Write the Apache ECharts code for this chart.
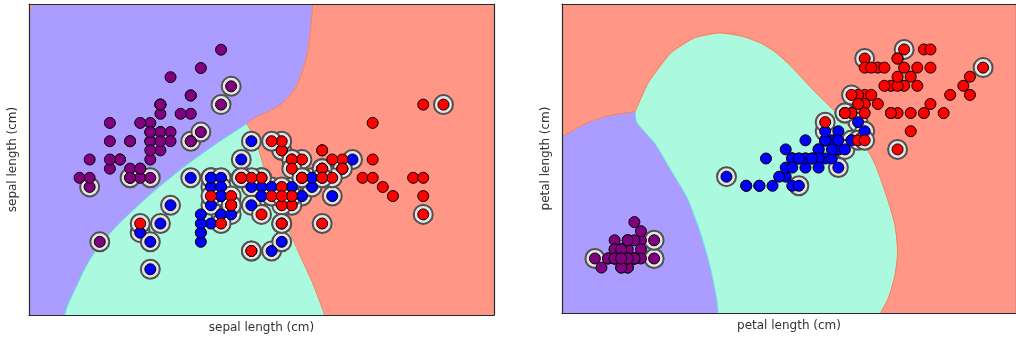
<!DOCTYPE html>
<html>
<head>
<meta charset="utf-8">
<script src="https://cdn.jsdelivr.net/npm/echarts@6/dist/echarts.min.js"></script>
<style>
  html, body { margin: 0; padding: 0; background: #fff; overflow: hidden; }
  #chart { width: 1016px; height: 339px; }
</style>
</head>
<body>
<div id="chart"></div>
<script>
// Iris measurements: [sepal length, sepal width, petal length, petal width] (cm)
const setosa = [
  [5.1,3.5,1.4,0.2],[4.9,3.0,1.4,0.2],[4.7,3.2,1.3,0.2],[4.6,3.1,1.5,0.2],[5.0,3.6,1.4,0.2],
  [5.4,3.9,1.7,0.4],[4.6,3.4,1.4,0.3],[5.0,3.4,1.5,0.2],[4.4,2.9,1.4,0.2],[4.9,3.1,1.5,0.1],
  [5.4,3.7,1.5,0.2],[4.8,3.4,1.6,0.2],[4.8,3.0,1.4,0.1],[4.3,3.0,1.1,0.1],[5.8,4.0,1.2,0.2],
  [5.7,4.4,1.5,0.4],[5.4,3.9,1.3,0.4],[5.1,3.5,1.4,0.3],[5.7,3.8,1.7,0.3],[5.1,3.8,1.5,0.3],
  [5.4,3.4,1.7,0.2],[5.1,3.7,1.5,0.4],[4.6,3.6,1.0,0.2],[5.1,3.3,1.7,0.5],[4.8,3.4,1.9,0.2],
  [5.0,3.0,1.6,0.2],[5.0,3.4,1.6,0.4],[5.2,3.5,1.5,0.2],[5.2,3.4,1.4,0.2],[4.7,3.2,1.6,0.2],
  [4.8,3.1,1.6,0.2],[5.4,3.4,1.5,0.4],[5.2,4.1,1.5,0.1],[5.5,4.2,1.4,0.2],[4.9,3.1,1.5,0.2],
  [5.0,3.2,1.2,0.2],[5.5,3.5,1.3,0.2],[4.9,3.6,1.4,0.1],[4.4,3.0,1.3,0.2],[5.1,3.4,1.5,0.2],
  [5.0,3.5,1.3,0.3],[4.5,2.3,1.3,0.3],[4.4,3.2,1.3,0.2],[5.0,3.5,1.6,0.6],[5.1,3.8,1.9,0.4],
  [4.8,3.0,1.4,0.3],[5.1,3.8,1.6,0.2],[4.6,3.2,1.4,0.2],[5.3,3.7,1.5,0.2],[5.0,3.3,1.4,0.2]
];
const versicolor = [
  [7.0,3.2,4.7,1.4],[6.4,3.2,4.5,1.5],[6.9,3.1,4.9,1.5],[5.5,2.3,4.0,1.3],[6.5,2.8,4.6,1.5],
  [5.7,2.8,4.5,1.3],[6.3,3.3,4.7,1.6],[4.9,2.4,3.3,1.0],[6.6,2.9,4.6,1.3],[5.2,2.7,3.9,1.4],
  [5.0,2.0,3.5,1.0],[5.9,3.0,4.2,1.5],[6.0,2.2,4.0,1.0],[6.1,2.9,4.7,1.4],[5.6,2.9,3.6,1.3],
  [6.7,3.1,4.4,1.4],[5.6,3.0,4.5,1.5],[5.8,2.7,4.1,1.0],[6.2,2.2,4.5,1.5],[5.6,2.5,3.9,1.1],
  [5.9,3.2,4.8,1.8],[6.1,2.8,4.0,1.3],[6.3,2.5,4.9,1.5],[6.1,2.8,4.7,1.2],[6.4,2.9,4.3,1.3],
  [6.6,3.0,4.4,1.4],[6.8,2.8,4.8,1.4],[6.7,3.0,5.0,1.7],[6.0,2.9,4.5,1.5],[5.7,2.6,3.5,1.0],
  [5.5,2.4,3.8,1.1],[5.5,2.4,3.7,1.0],[5.8,2.7,3.9,1.2],[6.0,2.7,5.1,1.6],[5.4,3.0,4.5,1.5],
  [6.0,3.4,4.5,1.6],[6.7,3.1,4.7,1.5],[6.3,2.3,4.4,1.3],[5.6,3.0,4.1,1.3],[5.5,2.5,4.0,1.3],
  [5.5,2.6,4.4,1.2],[6.1,3.0,4.6,1.4],[5.8,2.6,4.0,1.2],[5.0,2.3,3.3,1.0],[5.6,2.7,4.2,1.3],
  [5.7,3.0,4.2,1.2],[5.7,2.9,4.2,1.3],[6.2,2.9,4.3,1.3],[5.1,2.5,3.0,1.1],[5.7,2.8,4.1,1.3]
];
const virginica = [
  [6.3,3.3,6.0,2.5],[5.8,2.7,5.1,1.9],[7.1,3.0,5.9,2.1],[6.3,2.9,5.6,1.8],[6.5,3.0,5.8,2.2],
  [7.6,3.0,6.6,2.1],[4.9,2.5,4.5,1.7],[7.3,2.9,6.3,1.8],[6.7,2.5,5.8,1.8],[7.2,3.6,6.1,2.5],
  [6.5,3.2,5.1,2.0],[6.4,2.7,5.3,1.9],[6.8,3.0,5.5,2.1],[5.7,2.5,5.0,2.0],[5.8,2.8,5.1,2.4],
  [6.4,3.2,5.3,2.3],[6.5,3.0,5.5,1.8],[7.7,3.8,6.7,2.2],[7.7,2.6,6.9,2.3],[6.0,2.2,5.0,1.5],
  [6.9,3.2,5.7,2.3],[5.6,2.8,4.9,2.0],[7.7,2.8,6.7,2.0],[6.3,2.7,4.9,1.8],[6.7,3.3,5.7,2.1],
  [7.2,3.2,6.0,1.8],[6.2,2.8,4.8,1.8],[6.1,3.0,4.9,1.8],[6.4,2.8,5.6,2.1],[7.2,3.0,5.8,1.6],
  [7.4,2.8,6.1,1.9],[7.9,3.8,6.4,2.0],[6.4,2.8,5.6,2.2],[6.3,2.8,5.1,1.5],[6.1,2.6,5.6,1.4],
  [7.7,3.0,6.1,2.3],[6.3,3.4,5.6,2.4],[6.4,3.1,5.5,1.8],[6.0,3.0,4.8,1.8],[6.9,3.1,5.4,2.1],
  [6.7,3.1,5.6,2.4],[6.9,3.1,5.1,2.3],[5.8,2.7,5.1,1.9],[6.8,3.2,5.9,2.3],[6.7,3.3,5.7,2.5],
  [6.7,3.0,5.2,2.3],[6.3,2.5,5.0,1.9],[6.5,3.0,5.2,2.0],[6.2,3.4,5.4,2.3],[5.9,3.0,5.1,1.8]
];

// Support vectors, by sample number (1-150)
const svSepal = [
  9,13,15,19,21,26,37,42,
  51,52,53,55,56,57,58,59,60,61,62,63,64,65,66,67,68,69,71,72,73,74,75,76,77,78,79,80,
  83,84,85,86,87,88,89,92,93,94,95,96,97,98,99,100,
  101,102,104,105,107,109,111,112,113,114,115,116,117,119,120,122,124,127,128,129,
  132,133,134,135,137,138,139,141,143,146,147,148,149,150
];
const svPetal = [23,25,45,53,68,71,73,74,77,78,84,86,99,107,115,119,120,122,127,134,135,145];

// Axis extents (cm)
const sepalRange = { x: [3.8, 8.4], y: [1.5, 4.9] };
const petalRange = { x: [0.5, 7.4], y: [-0.4, 3.0] };

// Decision boundaries, sepal panel (x = sepal length, y = sepal width)
const sepalPurpleSalmon = [[6.606,4.9],[6.592,4.684],[6.547,4.323],[6.438,3.984],[6.300,3.809],
  [6.161,3.721],[6.033,3.656],[5.954,3.590]];
const sepalPurpleAqua = [[5.954,3.590],[5.637,3.360],[5.321,3.109],[4.994,2.813],[4.697,2.507],
  [4.499,2.266],[4.371,2.047],[4.252,1.773],[4.183,1.609],[4.153,1.5]];
const sepalAquaSalmon = [[5.954,3.590],[6.043,3.415],[6.102,3.196],[6.181,2.923],[6.270,2.704],
  [6.349,2.485],[6.478,2.157],[6.606,1.850],[6.725,1.5]];
const sepalCorner = [[3.8,4.9],[3.845,4.9],[3.8,4.8]];

// Decision boundaries, petal panel (x = petal length, y = petal width)
const petalPurpleSalmon = [[0.5,1.540],[0.920,1.705],[1.266,1.779],[1.613,1.815]];
const petalPurpleAqua = [[1.613,1.815],[1.632,1.702],[1.910,1.467],[2.152,1.173],[2.404,0.865],
  [2.597,0.495],[2.745,0.128],[2.849,-0.235],[2.874,-0.4]];
const petalAquaSalmon = [[1.613,1.815],[1.810,2.131],[2.152,2.461],[2.508,2.626],[2.894,2.681],
  [3.220,2.648],[3.517,2.571],[3.739,2.472],[3.977,2.318],[4.318,2.054],[4.670,1.801],
  [4.912,1.614],[5.115,1.426],[5.263,1.228],[5.412,0.931],[5.560,0.568],[5.599,0.271],
  [5.560,0.018],[5.461,-0.235],[5.338,-0.4]];

const BG = { purple: '#ab9dff', aqua: '#abfadf', salmon: '#ff9686' };
const DOT = { setosa: '#800080', versicolor: '#0000ff', virginica: '#ff0000' };
const EDGE = { cyan: '#5fe3e8', orange: '#f2845c' };
const FONT = 'DejaVu Sans';

const allSamples = setosa.concat(versicolor, virginica);
const cols = (rows, a, b) => rows.map(r => [r[a], r[b]]);
const svCols = (nums, a, b) => nums.map(n => [allSamples[n - 1][a], allSamples[n - 1][b]]);
const rectOf = r => [[r.x[0], r.y[0]], [r.x[1], r.y[0]], [r.x[1], r.y[1]], [r.x[0], r.y[1]]];
const rev = a => a.slice().reverse();

const sepalRegions = [
  { fill: BG.salmon, pts: rectOf(sepalRange) },
  { fill: BG.purple, pts: [[sepalRange.x[0], sepalRange.y[1]]].concat(sepalPurpleSalmon,
      sepalPurpleAqua.slice(1), [[sepalRange.x[0], sepalRange.y[0]]]) },
  { fill: BG.aqua, pts: sepalPurpleAqua.concat(rev(sepalAquaSalmon).slice(0, -1)) },
  { fill: BG.salmon, pts: sepalCorner }
];
const petalRegions = [
  { fill: BG.salmon, pts: rectOf(petalRange) },
  { fill: BG.purple, pts: [[petalRange.x[0], petalRange.y[0]]].concat(petalPurpleSalmon,
      petalPurpleAqua.slice(1)) },
  { fill: BG.aqua, pts: petalPurpleAqua.concat(rev(petalAquaSalmon).slice(0, -1)) }
];

function regionSeries(gi, polys) {
  return {
    type: 'custom', xAxisIndex: gi * 2, yAxisIndex: gi * 2, silent: true, animation: false, z: 1,
    data: polys.map(p => p.pts[0]),
    renderItem(params, api) {
      const p = polys[params.dataIndex];
      return { type: 'polygon', shape: { points: p.pts.map(q => api.coord(q)) },
               style: { fill: p.fill, stroke: null } };
    }
  };
}
function edgeSeries(gi, pts, color) {
  return { type: 'line', xAxisIndex: gi * 2, yAxisIndex: gi * 2, data: pts, symbol: 'none',
           smooth: 0.3, lineStyle: { color, width: 1 }, silent: true, animation: false, z: 2 };
}
function ringSeries(gi, pts) {
  return { type: 'scatter', xAxisIndex: gi * 2, yAxisIndex: gi * 2, data: pts, symbolSize: 19,
           itemStyle: { color: '#e4e4e4', borderColor: '#505050', borderWidth: 2, opacity: 1 },
           silent: true, animation: false, z: 3 };
}
function dotSeries(gi, pts, color) {
  return { type: 'scatter', xAxisIndex: gi * 2, yAxisIndex: gi * 2, data: pts, symbolSize: 11,
           itemStyle: { color, borderColor: '#000', borderWidth: 1, opacity: 1 },
           silent: true, animation: false, z: 4 };
}

const frameLine = { show: true, onZero: false, lineStyle: { color: '#2a2a2a', width: 1.2 } };
const nameStyle = { color: '#333', fontFamily: FONT, fontSize: 12 };
function xAxes(gi, range, name) {
  const base = { gridIndex: gi, type: 'value', min: range.x[0], max: range.x[1], z: 10,
    axisLine: frameLine, axisTick: { show: false }, axisLabel: { show: false }, splitLine: { show: false } };
  return [
    Object.assign({}, base, { position: 'bottom', name, nameLocation: 'middle', nameGap: 7, nameTextStyle: nameStyle }),
    Object.assign({}, base, { position: 'top' })
  ];
}
function yAxes(gi, range, name) {
  const base = { gridIndex: gi, type: 'value', min: range.y[0], max: range.y[1], z: 10,
    axisLine: frameLine, axisTick: { show: false }, axisLabel: { show: false }, splitLine: { show: false } };
  return [
    Object.assign({}, base, { position: 'left', name, nameLocation: 'middle', nameGap: 10, nameTextStyle: nameStyle }),
    Object.assign({}, base, { position: 'right' })
  ];
}

const chart = echarts.init(document.getElementById('chart'), null, { renderer: 'canvas' });
chart.setOption({
  animation: false,
  backgroundColor: '#fff',
  grid: [
    { left: 29, top: 4, width: 465, height: 311 },
    { left: 562, top: 4, width: 465, height: 309 }
  ],
  xAxis: xAxes(0, sepalRange, 'sepal length (cm)').concat(xAxes(1, petalRange, 'petal length (cm)')),
  yAxis: yAxes(0, sepalRange, 'sepal length (cm)').concat(yAxes(1, petalRange, 'petal length (cm)')),
  series: [
    regionSeries(0, sepalRegions),
    edgeSeries(0, sepalPurpleAqua, EDGE.cyan),
    edgeSeries(0, sepalAquaSalmon, EDGE.orange),
    edgeSeries(0, sepalPurpleSalmon, EDGE.orange),
    ringSeries(0, svCols(svSepal, 0, 1)),
    dotSeries(0, cols(setosa, 0, 1), DOT.setosa),
    dotSeries(0, cols(versicolor, 0, 1), DOT.versicolor),
    dotSeries(0, cols(virginica, 0, 1), DOT.virginica),

    regionSeries(1, petalRegions),
    edgeSeries(1, petalPurpleAqua, EDGE.cyan),
    edgeSeries(1, petalAquaSalmon, EDGE.orange),
    edgeSeries(1, petalPurpleSalmon, EDGE.orange),
    ringSeries(1, svCols(svPetal, 2, 3)),
    dotSeries(1, cols(setosa, 2, 3), DOT.setosa),
    dotSeries(1, cols(versicolor, 2, 3), DOT.versicolor),
    dotSeries(1, cols(virginica, 2, 3), DOT.virginica)
  ]
});
</script>
</body>
</html>
